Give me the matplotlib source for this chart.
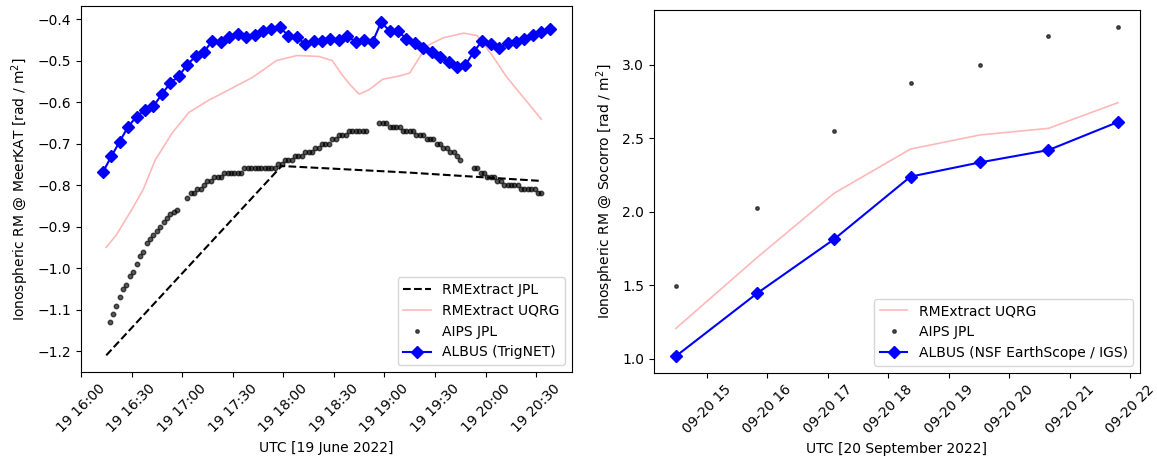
import matplotlib
matplotlib.use("Agg")
import matplotlib.pyplot as plt
import matplotlib.dates as mdates
import numpy as np
import pandas as pd

# ---- MeerKAT, 19 June 2022 ----
albus_mk_start = "2022-06-19 16:13"
albus_mk = [-0.769, -0.731, -0.695, -0.659, -0.635, -0.619, -0.610, -0.581, -0.554, -0.538,
            -0.510, -0.490, -0.479, -0.452, -0.455, -0.444, -0.436, -0.444, -0.438, -0.428,
            -0.424, -0.420, -0.440, -0.444, -0.460, -0.452, -0.452, -0.447, -0.450, -0.440,
            -0.456, -0.450, -0.455, -0.408, -0.428, -0.430, -0.447, -0.458, -0.471, -0.480,
            -0.492, -0.504, -0.516, -0.511, -0.479, -0.452, -0.460, -0.471, -0.458, -0.456,
            -0.448, -0.439, -0.432, -0.424]

# AIPS JPL, 2-min cadence, four blocks of scans
aips_mk_starts = ["2022-06-19 16:17", "2022-06-19 17:03", "2022-06-19 18:57", "2022-06-19 19:53"]
aips_mk_blocks = [
    [-1.13, -1.11, -1.09, -1.07, -1.05, -1.04, -1.02, -1.01, -0.99, -0.97, -0.96,
     -0.94, -0.93, -0.92, -0.91, -0.90, -0.89, -0.88, -0.87, -0.865, -0.86],
    [-0.83, -0.82, -0.82, -0.81, -0.81, -0.80, -0.79, -0.79, -0.78, -0.78, -0.78,
     -0.77, -0.77, -0.77, -0.77, -0.77, -0.77, -0.76, -0.76, -0.76, -0.76, -0.76,
     -0.76, -0.76, -0.76, -0.76, -0.76, -0.75, -0.75, -0.74, -0.74, -0.74, -0.73,
     -0.73, -0.73, -0.72, -0.72, -0.72, -0.71, -0.71, -0.70, -0.70, -0.70, -0.69,
     -0.69, -0.68, -0.68, -0.68, -0.67, -0.67, -0.67, -0.67, -0.67, -0.67],
    [-0.65, -0.65, -0.65, -0.66, -0.66, -0.66, -0.66, -0.67, -0.67, -0.67, -0.67,
     -0.68, -0.68, -0.68, -0.69, -0.69, -0.69, -0.70, -0.70, -0.71, -0.71, -0.72,
     -0.72, -0.73, -0.74],
    [-0.76, -0.76, -0.77, -0.77, -0.78, -0.78, -0.78, -0.79, -0.79, -0.80, -0.80,
     -0.80, -0.80, -0.80, -0.81, -0.81, -0.81, -0.81, -0.81, -0.82, -0.82],
]

jpl_mk_times = ["2022-06-19 16:15", "2022-06-19 17:59", "2022-06-19 19:15", "2022-06-19 20:33"]
jpl_mk = [-1.21, -0.754, -0.770, -0.790]

uqrg_mk_times = ["16:15", "16:21", "16:30", "16:37", "16:44", "16:54", "17:04", "17:16",
                 "17:28", "17:42", "17:56", "18:08", "18:21", "18:29", "18:35", "18:40",
                 "18:45", "18:51", "18:59", "19:09", "19:15", "19:25", "19:35", "19:47",
                 "19:55", "20:04", "20:12", "20:20", "20:33"]
uqrg_mk = [-0.95, -0.92, -0.86, -0.81, -0.74, -0.675, -0.625, -0.595, -0.57, -0.54,
           -0.50, -0.488, -0.49, -0.50, -0.535, -0.56, -0.581, -0.57, -0.545, -0.537,
           -0.53, -0.465, -0.445, -0.434, -0.44, -0.488, -0.537, -0.577, -0.641]

# ---- Socorro, 20 September 2022 ----
vla_times = ["14:29", "15:50", "17:06", "18:22", "19:31", "20:39", "21:48"]
albus_vla = [1.016, 1.446, 1.812, 2.239, 2.336, 2.42, 2.611]
aips_vla = [1.493, 2.025, 2.552, 2.875, 3.0, 3.2, 3.261]
uqrg_vla = [1.205, 1.69, 2.125, 2.427, 2.523, 2.568, 2.743]

fig = plt.figure(figsize=(11.57, 4.59), dpi=100)
ax1 = fig.add_axes([0.0696, 0.1896, 0.4248, 0.798])
ax2 = fig.add_axes([0.565, 0.188, 0.4204, 0.790])

# left panel
t_albus = pd.date_range(albus_mk_start, periods=len(albus_mk), freq="5min")
t_uqrg = pd.to_datetime(["2022-06-19 " + s for s in uqrg_mk_times])

ax1.plot(pd.to_datetime(jpl_mk_times), jpl_mk, "k--", lw=1.5, label="RMExtract JPL")
ax1.plot(t_uqrg, uqrg_mk, color="red", alpha=0.28, lw=1.2, label="RMExtract UQRG")
for i, (start, block) in enumerate(zip(aips_mk_starts, aips_mk_blocks)):
    t_blk = pd.date_range(start, periods=len(block), freq="2min")
    ax1.plot(t_blk, block, ".", color="k", alpha=0.65, ms=6.5,
             label="AIPS JPL" if i == 0 else None)
ax1.plot(t_albus, albus_mk, "-D", color="blue", ms=6.5, lw=1.5, label="ALBUS (TrigNET)")

ax1.xaxis.set_major_locator(mdates.MinuteLocator(byminute=[0, 30]))
ax1.xaxis.set_major_formatter(mdates.DateFormatter("%d %H:%M"))
ax1.set_xlabel("UTC [19 June 2022]")
ax1.set_ylabel(r"Ionospheric RM @ MeerKAT [rad / $\rm m^2$]")
leg1 = ax1.legend(loc="lower right")
leg1.legend_handles[2].set_markersize(5)
plt.setp(ax1.get_xticklabels(), rotation=45)

# right panel
t_vla = pd.to_datetime(["2022-09-20 " + s for s in vla_times])
ax2.plot(t_vla, uqrg_vla, color="red", alpha=0.28, lw=1.2, label="RMExtract UQRG")
ax2.plot(t_vla, aips_vla, ".", color="k", alpha=0.65, ms=5, label="AIPS JPL")
ax2.plot(t_vla, albus_vla, "-D", color="blue", ms=6.5, lw=1.5,
         label="ALBUS (NSF EarthScope / IGS)")

ax2.xaxis.set_major_locator(mdates.HourLocator())
ax2.xaxis.set_major_formatter(mdates.DateFormatter("%m-%d %H"))
ax2.set_xlabel("UTC [20 September 2022]")
ax2.set_ylabel(r"Ionospheric RM @ Socorro [rad / $\rm m^2$]")
ax2.legend(loc="lower right")
plt.setp(ax2.get_xticklabels(), rotation=45)

fig.savefig("out.png", dpi=100)
